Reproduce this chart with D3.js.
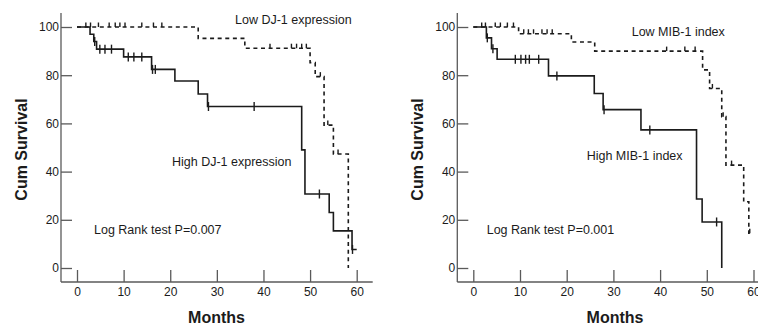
<!DOCTYPE html>
<html>
<head>
<meta charset="utf-8">
<script src="https://cdn.jsdelivr.net/npm/d3@7"></script>
<style>
  html, body { margin: 0; padding: 0; background: #fff; }
  svg { display: block; font-family: "Liberation Sans", Arial, sans-serif; }
</style>
</head>
<body>
<svg id="chart" width="758" height="328"></svg>
<script>
// ---------- data ----------
const xTickValues = [0, 10, 20, 30, 40, 50, 60];
const yTickValues = [0, 20, 40, 60, 80, 100];

// Left panel: DJ-1 expression
const leftHighTime = [0, 2.8, 3.6, 4.2, 10, 16, 21, 26, 28, 48.2, 48.9, 54.1, 55, 59, 60];
const leftHighSurv = [100, 97, 94, 90.8, 87.6, 82.4, 77.6, 72.2, 67, 49, 30.7, 23, 15.4, 7.7, 7.7];
const leftHighCensor = [3.8, 4.9, 6.0, 7.4, 11, 12.2, 13.9, 16.2, 16.8, 28.2, 38, 52, 59.1];

const leftLowTime = [0, 26, 36, 50, 51.1, 53, 55, 58.2];
const leftLowSurv = [100, 95.3, 91.2, 85.2, 79.4, 59.3, 47.3, 0];
const leftLowCensor = [1.9, 2.9, 4.6, 6.9, 8.2, 9.2, 10.3, 13.9, 16.4, 18.2, 41.4, 46, 47.1, 48.2, 49.2, 52.2, 53.8, 56];

// Right panel: MIB-1 index
const rightHighTime = [0, 2.8, 3.9, 5.1, 16.1, 25.9, 27.8, 35.9, 47.8, 49, 53.2];
const rightHighSurv = [100, 95.5, 91, 86.6, 79.7, 72.4, 65.7, 57.3, 28.6, 19.1, 0];
const rightHighCensor = [3.0, 4.2, 9, 10.2, 11.2, 12, 14, 17.9, 28, 37.8, 52.1];

const rightLowTime = [0, 9.7, 21, 26, 49.1, 50.6, 53.2, 54.1, 57.9, 59, 59.4];
const rightLowSurv = [100, 97.2, 93.8, 90, 82.2, 74.5, 62.8, 42.7, 27.5, 14.4, 14.4];
const rightLowCensor = [1.8, 2.6, 4.7, 5.8, 7.3, 8.6, 10.8, 11.8, 12.9, 14.7, 15.8, 16.9, 41.4, 45.3, 47.5, 51.2, 53.5, 55.3, 59.2];

const panels = [
  {
    x0: 77, x60: 356.7, axisRight: 372.7,
    labelLow: "Low DJ-1 expression", lowPos: [235, 23.5],
    labelHigh: "High DJ-1 expression", highPos: [172, 165.5],
    pText: "Log Rank test P=0.007", pPos: [94, 233.5],
    high: { t: leftHighTime, s: leftHighSurv, c: leftHighCensor },
    low:  { t: leftLowTime,  s: leftLowSurv,  c: leftLowCensor },
    yLabelX: 27, xLabelX: 216.5
  },
  {
    x0: 473.3, x60: 753.5, axisRight: 770,
    labelLow: "Low MIB-1 index", lowPos: [631.7, 36],
    labelHigh: "High MIB-1 index", highPos: [586.7, 159.5],
    pText: "Log Rank test P=0.001", pPos: [486.7, 233.5],
    high: { t: rightHighTime, s: rightHighSurv, c: rightHighCensor },
    low:  { t: rightLowTime,  s: rightLowSurv,  c: rightLowCensor },
    yLabelX: 423.3, xLabelX: 615
  }
];

// ---------- drawing ----------
const svg = d3.select("#chart");
svg.append("rect").attr("width", 758).attr("height", 328).attr("fill", "#fff");

const axisColor = "#5a5a5a";
const inkColor = "#1b1b1b";

function survAt(t, times, surv) {
  let v = surv[0];
  for (let i = 0; i < times.length; i++) {
    if (times[i] <= t) v = surv[i]; else break;
  }
  return v;
}

panels.forEach(p => {
  const x = d3.scaleLinear().domain([0, 60]).range([p.x0, p.x60]);
  const y = d3.scaleLinear().domain([0, 100]).range([268, 27]);
  const g = svg.append("g");

  const axisX = x(0) - 16;   // y-axis line position
  const axisY = 282;         // x-axis line position

  // axis lines
  g.append("line").attr("x1", axisX).attr("x2", axisX)
    .attr("y1", 13).attr("y2", axisY)
    .attr("stroke", axisColor).attr("stroke-width", 1.3);
  g.append("line").attr("x1", axisX).attr("x2", p.axisRight)
    .attr("y1", axisY).attr("y2", axisY)
    .attr("stroke", axisColor).attr("stroke-width", 1.3);

  // y axis (ticks pointing inward)
  const yAxis = d3.axisLeft(y).tickValues(yTickValues).tickSize(-11).tickPadding(2);
  const ya = g.append("g").attr("transform", `translate(${axisX},0)`).call(yAxis);
  ya.select(".domain").remove();
  ya.selectAll(".tick line").attr("stroke", axisColor).attr("stroke-width", 1.3);
  ya.selectAll(".tick text").attr("fill", inkColor)
    .style("font-size", "12px").style("font-family", "Liberation Sans, Arial, sans-serif");

  // x axis (ticks pointing up)
  const xAxis = d3.axisBottom(x).tickValues(xTickValues).tickSize(-12).tickPadding(5.5);
  const xa = g.append("g").attr("transform", `translate(0,${axisY})`).call(xAxis);
  xa.select(".domain").remove();
  xa.selectAll(".tick line").attr("stroke", axisColor).attr("stroke-width", 1.3);
  xa.selectAll(".tick text").attr("fill", inkColor)
    .style("font-size", "12px").style("font-family", "Liberation Sans, Arial, sans-serif");

  // axis titles
  g.append("text").attr("x", p.xLabelX).attr("y", 322.5)
    .attr("text-anchor", "middle").attr("fill", inkColor)
    .style("font-size", "16px").style("font-weight", "bold")
    .text("Months");
  g.append("text")
    .attr("transform", `translate(${p.yLabelX},149.5) rotate(-90)`)
    .attr("text-anchor", "middle").attr("fill", inkColor)
    .style("font-size", "16px").style("font-weight", "bold")
    .text("Cum Survival");

  const line = d3.line()
    .x(d => x(d[0])).y(d => y(d[1]))
    .curve(d3.curveStepAfter);

  // Low group: dashed
  const lowPts = p.low.t.map((t, i) => [t, p.low.s[i]]);
  g.append("path").attr("d", line(lowPts))
    .attr("fill", "none").attr("stroke", inkColor)
    .attr("stroke-width", 1.6).attr("stroke-dasharray", "4,3.6");
  g.selectAll(null).data(p.low.c).enter().append("line")
    .attr("x1", d => x(d)).attr("x2", d => x(d))
    .attr("y1", d => y(survAt(d, p.low.t, p.low.s)) - 4.5)
    .attr("y2", d => y(survAt(d, p.low.t, p.low.s)))
    .attr("stroke", inkColor).attr("stroke-width", 1.4);

  // High group: solid
  const highPts = p.high.t.map((t, i) => [t, p.high.s[i]]);
  g.append("path").attr("d", line(highPts))
    .attr("fill", "none").attr("stroke", inkColor)
    .attr("stroke-width", 1.6);
  g.selectAll(null).data(p.high.c).enter().append("line")
    .attr("x1", d => x(d)).attr("x2", d => x(d))
    .attr("y1", d => y(survAt(d, p.high.t, p.high.s)) - 4.5)
    .attr("y2", d => y(survAt(d, p.high.t, p.high.s)) + 4.5)
    .attr("stroke", inkColor).attr("stroke-width", 1.4);

  // annotations
  const ann = [
    [p.labelLow, p.lowPos],
    [p.labelHigh, p.highPos],
    [p.pText, p.pPos]
  ];
  ann.forEach(([txt, pos]) => {
    g.append("text").attr("x", pos[0]).attr("y", pos[1])
      .attr("fill", inkColor).style("font-size", "12.5px")
      .text(txt);
  });
});
</script>
</body>
</html>
